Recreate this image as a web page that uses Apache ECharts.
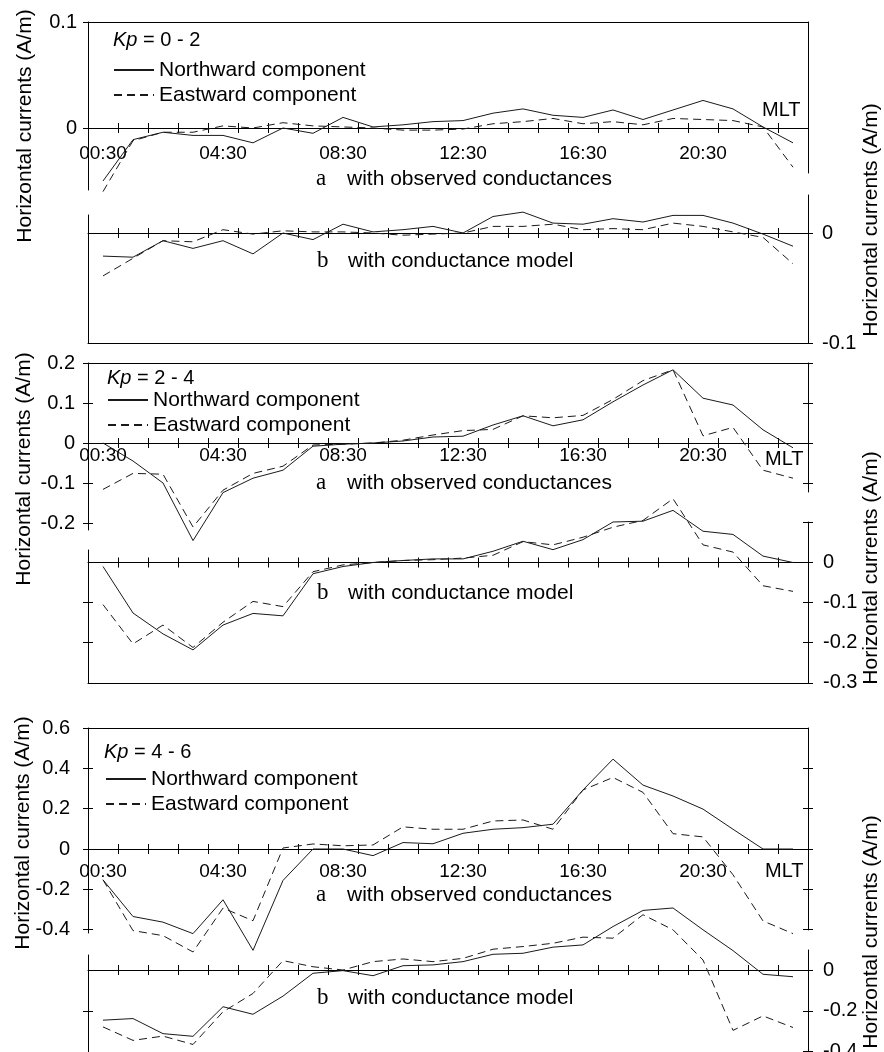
<!DOCTYPE html>
<html><head><meta charset="utf-8">
<script src="https://cdn.jsdelivr.net/npm/echarts@6/dist/echarts.min.js"></script>
<style>html,body{margin:0;padding:0;background:#fff}#c{width:884px;height:1052px}</style>
</head><body><div id="c"></div>
<script>
// ---------------- DATA ----------------
const MLT = ['00:30','01:30','02:30','03:30','04:30','05:30','06:30','07:30','08:30','09:30','10:30','11:30',
             '12:30','13:30','14:30','15:30','16:30','17:30','18:30','19:30','20:30','21:30','22:30','23:30'];
const seriesNames = ['Northward component', 'Eastward component'];
const kpRanges = ['0 - 2', '2 - 4', '4 - 6'];
const captionA = 'with observed conductances';
const captionB = 'with conductance model';
const yTitle = 'Horizontal currents (A/m)';
const xName = 'MLT';

// Kp = 0 - 2
const kp02ObsNorth = [-0.050,-0.011,-0.004,-0.007,-0.007,-0.014,0.000,-0.005,0.010,0.001,0.003,0.006,0.007,0.014,0.018,0.012,0.010,0.017,0.008,0.017,0.026,0.018,0.001,-0.014];
const kp02ObsEast  = [-0.060,-0.012,-0.004,-0.004,0.002,0.000,0.005,0.002,0.001,0.000,-0.002,-0.002,-0.001,0.004,0.006,0.009,0.004,0.006,0.003,0.009,0.008,0.007,0.001,-0.037];
const kp02ModNorth = [-0.021,-0.022,-0.007,-0.014,-0.007,-0.019,0.000,-0.006,0.008,0.001,0.003,0.006,0.000,0.015,0.019,0.009,0.008,0.013,0.010,0.016,0.016,0.009,-0.001,-0.012];
const kp02ModEast  = [-0.039,-0.023,-0.007,-0.008,0.003,-0.001,0.002,0.001,0.001,0.000,-0.002,-0.001,0.000,0.006,0.006,0.008,0.003,0.004,0.003,0.009,0.006,0.001,-0.004,-0.028];
// Kp = 2 - 4
const kp24ObsNorth = [0.000,-0.045,-0.100,-0.244,-0.124,-0.088,-0.068,-0.008,-0.003,0.000,0.005,0.015,0.017,0.045,0.068,0.043,0.058,0.103,0.145,0.183,0.112,0.095,0.033,-0.012];
const kp24ObsEast  = [-0.116,-0.076,-0.078,-0.210,-0.118,-0.076,-0.058,-0.005,-0.003,0.000,0.007,0.020,0.031,0.034,0.068,0.063,0.069,0.109,0.156,0.183,0.018,0.039,-0.068,-0.088];
const kp24ModNorth = [-0.010,-0.126,-0.178,-0.218,-0.156,-0.127,-0.133,-0.028,-0.010,0.000,0.005,0.009,0.009,0.028,0.053,0.032,0.057,0.101,0.103,0.130,0.078,0.070,0.016,0.000];
const kp24ModEast  = [-0.105,-0.203,-0.156,-0.212,-0.149,-0.097,-0.110,-0.023,-0.006,0.000,0.005,0.007,0.011,0.018,0.052,0.044,0.063,0.088,0.105,0.159,0.044,0.026,-0.058,-0.072];
// Kp = 4 - 6
const kp46ObsNorth = [-0.153,-0.335,-0.363,-0.420,-0.252,-0.503,-0.156,0.000,0.000,-0.033,0.032,0.026,0.078,0.098,0.106,0.123,0.293,0.446,0.317,0.263,0.198,0.098,0.000,0.000];
const kp46ObsEast  = [-0.153,-0.405,-0.430,-0.511,-0.293,-0.356,0.005,0.025,0.016,0.020,0.110,0.098,0.098,0.139,0.144,0.098,0.293,0.355,0.281,0.076,0.060,-0.128,-0.357,-0.420];
const kp46ModNorth = [-0.246,-0.238,-0.312,-0.325,-0.180,-0.217,-0.128,-0.016,-0.003,-0.028,0.021,0.025,0.041,0.077,0.082,0.112,0.123,0.213,0.292,0.304,0.197,0.095,-0.021,-0.033];
const kp46ModEast  = [-0.279,-0.345,-0.324,-0.365,-0.205,-0.115,0.046,0.016,0.000,0.041,0.054,0.041,0.057,0.102,0.115,0.131,0.161,0.156,0.271,0.197,0.049,-0.296,-0.225,-0.282];

// Tick values / labels
const kp02ObsLeftLabels  = [0, 0.1];
const kp02ObsRightTicks  = [];
const kp02ModLeftTicks   = [];
const kp02ModRightLabels = [0, -0.1];
const kp24ObsLeftLabels  = [0.2, 0.1, 0, -0.1, -0.2];
const kp24ObsRightTicks  = [0.2, 0.1, 0, -0.1];
const kp24ModLeftTicks   = [-0.1, -0.2];
const kp24ModRightLabels = [0, -0.1, -0.2, -0.3];
const kp24ModRightTicks  = [0.1, 0, -0.1, -0.2, -0.3];
const kp46ObsLeftLabels  = [0.6, 0.4, 0.2, 0, -0.2, -0.4];
const kp46ObsRightTicks  = [0.4, 0.2, 0, -0.2, -0.4];
const kp46ModLeftTicks   = [-0.2];
const kp46ModRightLabels = [0, -0.2, -0.4];

// ---------------- LAYOUT ----------------
const FONT = "'Liberation Sans', Arial, Helvetica, sans-serif";
const SERIF = "'Liberation Serif', 'Times New Roman', serif";
const INK = '#000';
const LINE = '#1a1a1a';
const GL = 88, GR = 808;

const subplots = [
  {north:kp02ObsNorth, east:kp02ObsEast, zeroY:128, scale:1060, leftExt:[22,190], rightExt:[22,173],
   leftLabels:kp02ObsLeftLabels, leftTicks:kp02ObsLeftLabels, rightLabels:[], rightTicks:kp02ObsRightTicks,
   showX:true, xMargin:16, frame:'top', lMargin:11, rMargin:14},
  {north:kp02ModNorth, east:kp02ModEast, zeroY:233, scale:1100, leftExt:[215,343], rightExt:[195,343],
   leftLabels:[], leftTicks:kp02ModLeftTicks, rightLabels:kp02ModRightLabels, rightTicks:kp02ModRightLabels,
   showX:false, frame:'bottom', lMargin:11, rMargin:14},
  {north:kp24ObsNorth, east:kp24ObsEast, zeroY:443, scale:400, leftExt:[363,530], rightExt:[363,492],
   leftLabels:kp24ObsLeftLabels, leftTicks:kp24ObsLeftLabels, rightLabels:[], rightTicks:kp24ObsRightTicks,
   showX:true, xMargin:3, frame:'top', lMargin:13, rMargin:15},
  {north:kp24ModNorth, east:kp24ModEast, zeroY:562.5, scale:401, leftExt:[550,683], rightExt:[522,683],
   leftLabels:[], leftTicks:kp24ModLeftTicks, rightLabels:kp24ModRightLabels, rightTicks:kp24ModRightTicks,
   showX:false, frame:'bottom', lMargin:13, rMargin:15},
  {north:kp46ObsNorth, east:kp46ObsEast, zeroY:849, scale:201.5, leftExt:[728,933], rightExt:[728,930],
   leftLabels:kp46ObsLeftLabels, leftTicks:kp46ObsLeftLabels, rightLabels:[], rightTicks:kp46ObsRightTicks,
   showX:true, xMargin:13, frame:'top', lMargin:18, rMargin:15},
  {north:kp46ModNorth, east:kp46ModEast, zeroY:970, scale:204, leftExt:[955,1052], rightExt:[950,1052],
   leftLabels:[], leftTicks:kp46ModLeftTicks, rightLabels:kp46ModRightLabels, rightTicks:kp46ModRightLabels,
   showX:false, frame:'bottom', lMargin:18, rMargin:15}
];

const panels = [
  {kp:{x:113,y:40}, legend:{x:113,y:58}, a:{y:179}, b:{y:261}, mlt:{x:762,y:110}, lt:{x:25,y:126}, rt:{x:871,y:220}},
  {kp:{x:107,y:378}, legend:{x:107,y:388}, a:{y:483}, b:{y:593}, mlt:{x:765,y:459}, lt:{x:24,y:469}, rt:{x:871,y:568}},
  {kp:{x:104,y:752}, legend:{x:105,y:767}, a:{y:895}, b:{y:998}, mlt:{x:765,y:871}, lt:{x:23,y:833}, rt:{x:871,y:932}}
];

// ---------------- BUILD ----------------
const option = {animation:false, backgroundColor:'#fff', grid:[], xAxis:[], yAxis:[], series:[], legend:[], graphic:[]};
const axLine = {color:INK, width:1};
const EPS = 1e-7;

function yAxisPair(gi, pos, min, max, labels, ticks, margin) {
  const yi = option.yAxis.length;
  option.yAxis.push({type:'value', gridIndex:gi, position:pos, min:min, max:max,
    axisLine:{show:true, onZero:false, lineStyle:axLine},
    axisTick:{show:ticks.length>0, inside:false, length:5, customValues:ticks, lineStyle:axLine},
    axisLabel:{show:labels.length>0, customValues:labels, margin:margin, fontSize:20, color:INK, fontFamily:FONT},
    splitLine:{show:false}});
  option.yAxis.push({type:'value', gridIndex:gi, position:pos, min:min, max:max,
    axisLine:{show:false, onZero:false},
    axisTick:{show:ticks.length>0, inside:true, length:5, customValues:ticks, lineStyle:axLine},
    axisLabel:{show:false}, splitLine:{show:false}});
  return yi;
}

subplots.forEach(s => {
  const gi = option.grid.length;
  const [lt, lb] = s.leftExt;
  option.grid.push({left:GL, width:GR-GL, top:lt, height:lb-lt, outerBoundsMode:'none'});
  const yi = yAxisPair(gi, 'left', -(lb - s.zeroY)/s.scale - EPS, (s.zeroY - lt)/s.scale + EPS, s.leftLabels, s.leftTicks, s.lMargin);
  const base = {type:'category', gridIndex:gi, data:MLT, boundaryGap:true, splitLine:{show:false}};
  const xi = option.xAxis.length;
  option.xAxis.push(Object.assign({}, base, {position:'bottom',
    axisLine:{show:true, onZero:true, onZeroAxisIndex:yi, lineStyle:axLine},
    axisTick:{show:true, inside:true, length:5, interval:0, lineStyle:axLine},
    axisLabel:{show:false}}));
  option.xAxis.push(Object.assign({}, base, {position:'bottom',
    axisLine:{show:false, onZero:true, onZeroAxisIndex:yi},
    axisTick:{show:true, inside:false, length:5, interval:0, lineStyle:axLine},
    axisLabel:{show:false}}));
  if (s.showX) {
    option.xAxis.push(Object.assign({}, base, {position:'bottom', offset:-(lb - s.zeroY),
      axisLine:{show:false, onZero:false}, axisTick:{show:false},
      axisLabel:{show:true, interval:3, margin:s.xMargin, fontSize:19, color:INK, fontFamily:FONT}}));
  }
  option.xAxis.push(Object.assign({}, base, {position:s.frame,
    axisLine:{show:true, onZero:false, lineStyle:axLine},
    axisTick:{show:false}, axisLabel:{show:false}}));
  [[s.north,'solid'],[s.east,[8,5]]].forEach((d, k) => {
    option.series.push({type:'line', name:seriesNames[k], xAxisIndex:xi, yAxisIndex:yi, data:d[0],
      symbol:'none', clip:false, silent:true, emphasis:{disabled:true},
      lineStyle:{color:LINE, width:1, type:d[1]}, itemStyle:{color:LINE}});
  });
  const gj = option.grid.length;
  const [rt, rb] = s.rightExt;
  option.grid.push({left:GL, width:GR-GL, top:rt, height:rb-rt, outerBoundsMode:'none'});
  option.xAxis.push({type:'category', gridIndex:gj, data:MLT, show:false});
  yAxisPair(gj, 'right', -(rb - s.zeroY)/s.scale - EPS, (s.zeroY - rt)/s.scale + EPS, s.rightLabels, s.rightTicks, s.rMargin);
});

panels.forEach((p, i) => {
  option.legend.push({data:seriesNames, orient:'vertical', left:p.legend.x, top:p.legend.y, padding:0,
    itemWidth:40, itemHeight:14, itemGap:1, selectedMode:false,
    itemStyle:{color:'rgba(0,0,0,0)', borderWidth:0, opacity:0},
    textStyle:{fontSize:21, lineHeight:24, color:INK, fontFamily:FONT}});
  const g = option.graphic;
  g.push({type:'text', x:p.kp.x, y:p.kp.y, silent:true,
    style:{text:'{i|Kp} = ' + kpRanges[i], fontSize:20, fontFamily:FONT, fill:INK, verticalAlign:'middle',
      rich:{i:{fontStyle:'italic', fontSize:20, fontFamily:FONT, fill:INK}}}});
  g.push({type:'text', x:316, y:p.a.y, silent:true, style:{text:'a', fontSize:23, fontFamily:SERIF, fill:INK, verticalAlign:'middle'}});
  g.push({type:'text', x:347, y:p.a.y, silent:true, style:{text:captionA, fontSize:21, fontFamily:FONT, fill:INK, verticalAlign:'middle'}});
  g.push({type:'text', x:317, y:p.b.y, silent:true, style:{text:'b', fontSize:23, fontFamily:SERIF, fill:INK, verticalAlign:'middle'}});
  g.push({type:'text', x:348, y:p.b.y, silent:true, style:{text:captionB, fontSize:21, fontFamily:FONT, fill:INK, verticalAlign:'middle'}});
  g.push({type:'text', x:p.mlt.x, y:p.mlt.y, silent:true, style:{text:xName, fontSize:20, fontFamily:FONT, fill:INK, verticalAlign:'middle'}});
  g.push({type:'text', x:p.lt.x, y:p.lt.y, rotation:Math.PI/2, silent:true,
    style:{text:yTitle, fontSize:21, fontFamily:FONT, fill:INK, align:'center', verticalAlign:'middle'}});
  g.push({type:'text', x:p.rt.x, y:p.rt.y, rotation:Math.PI/2, silent:true,
    style:{text:yTitle, fontSize:21, fontFamily:FONT, fill:INK, align:'center', verticalAlign:'middle'}});
});

const chart = echarts.init(document.getElementById('c'), null, {renderer:'canvas'});
chart.setOption(option);
</script></body></html>
